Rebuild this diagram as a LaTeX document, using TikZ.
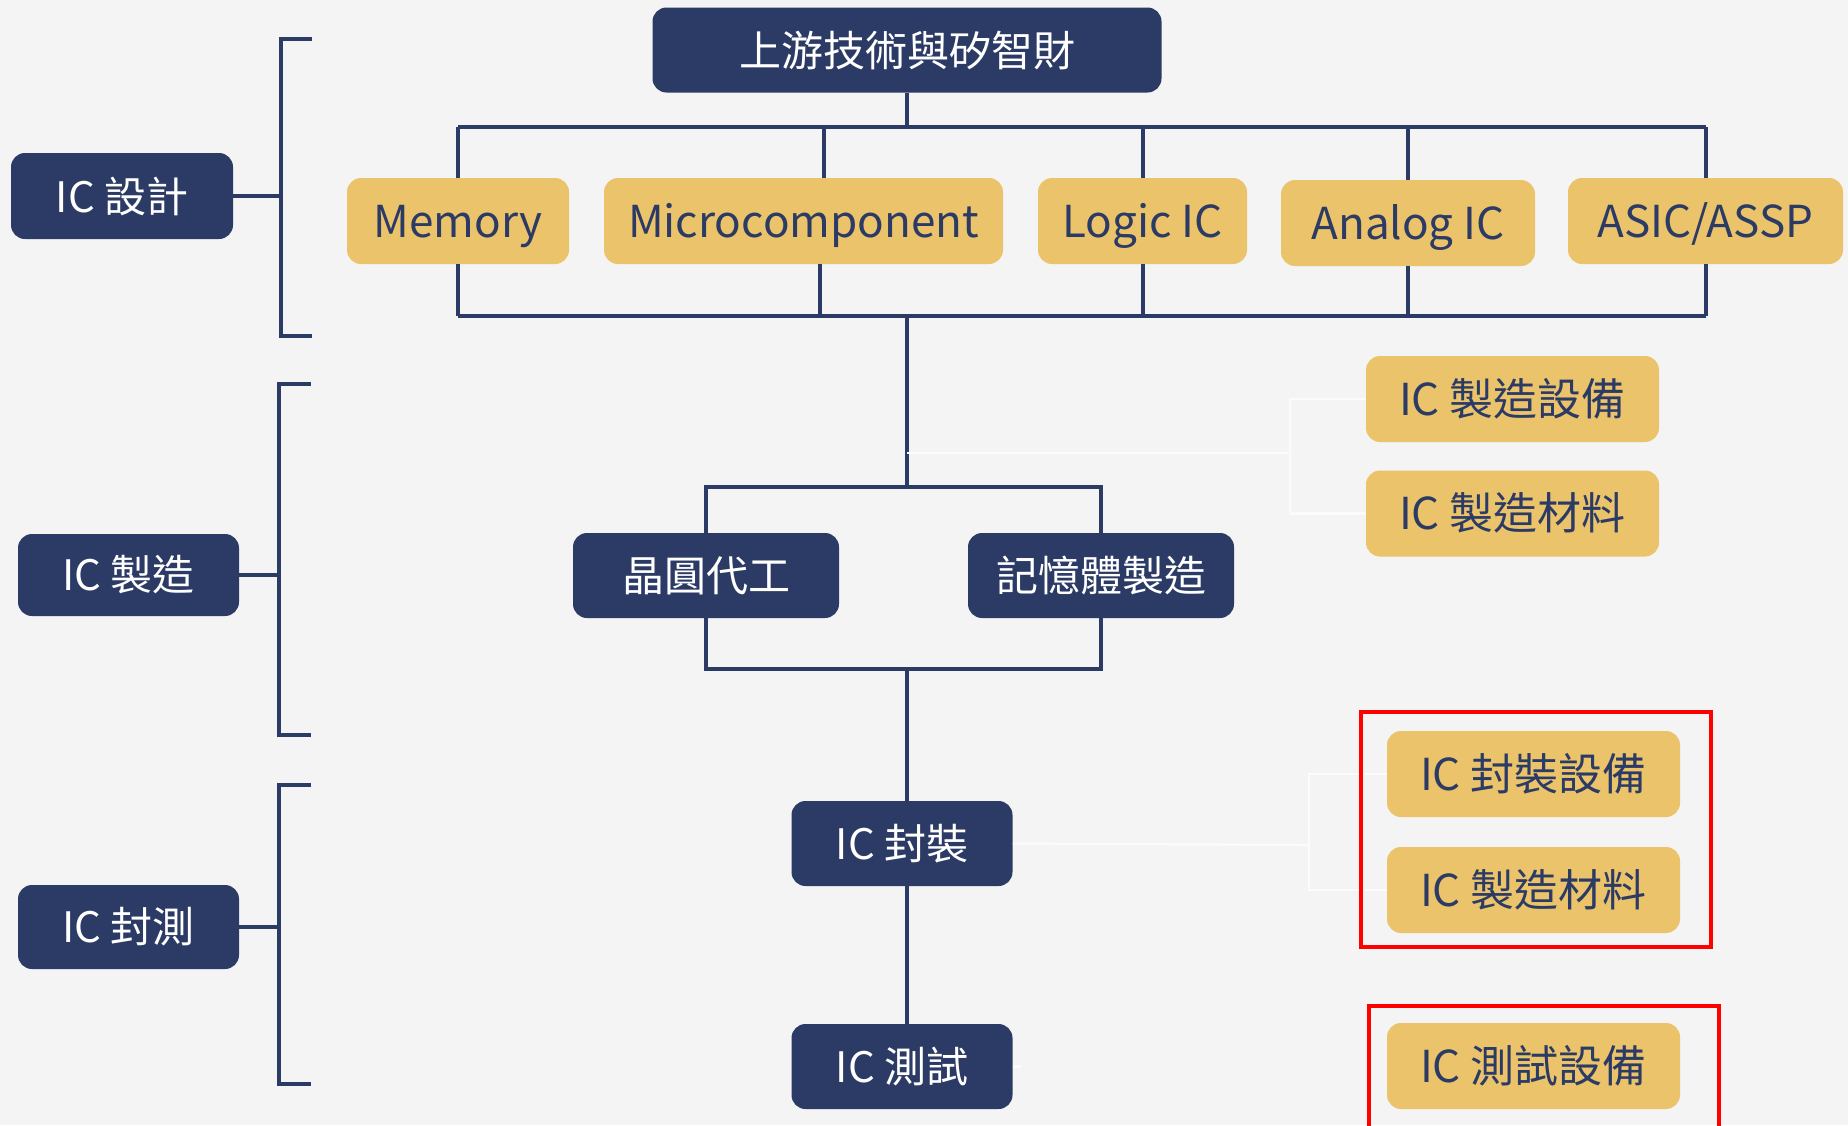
\documentclass[tikz,border=0pt]{standalone}
\usepackage{fontspec}
\setmainfont{Noto Sans CJK TC}
\definecolor{navy}{HTML}{2C3B65}
\definecolor{gold}{HTML}{EBC36A}
\definecolor{bg}{HTML}{F4F4F4}
\begin{document}
\begin{tikzpicture}[x=0.5pt,y=-0.5pt,
  navybox/.style={fill=navy,rounded corners=7pt,text=white,inner sep=0pt,
    font=\fontsize{21pt}{25pt}\selectfont},
  goldbox/.style={fill=gold,rounded corners=7pt,text=navy,inner sep=0pt,
    minimum height=43pt,text height=16pt,text depth=0pt,
    font=\fontsize{22pt}{26pt}\selectfont},
  conn/.style={draw=navy,line width=2pt},
  faint/.style={draw=white!60!bg,line width=1.2pt},
  redframe/.style={draw=red,line width=2pt}]
\fill[bg] (0,0) rectangle (1848,1125);
\useasboundingbox (0,0) rectangle (1848,1125);

% navy nodes
\node[navybox,minimum width=254.5pt,minimum height=42.5pt] (top) at (907,50) {上游技術與矽智財};
\node[navybox,minimum width=111pt,minimum height=43pt] (d1) at (122,196) {IC 設計};
\node[navybox,minimum width=110.5pt,minimum height=41pt] (m1) at (128.5,575) {IC 製造};
\node[navybox,minimum width=110.5pt,minimum height=42pt] (t1) at (128.5,927) {IC 封測};
\node[navybox,minimum width=133pt,minimum height=42.5pt] (wafer) at (706,575.5) {晶圓代工};
\node[navybox,minimum width=133pt,minimum height=42.5pt] (memf) at (1101,575.5) {記憶體製造};
\node[navybox,minimum width=110.5pt,minimum height=42.5pt] (pkg) at (902,843.5) {IC 封裝};
\node[navybox,minimum width=110.5pt,minimum height=42.5pt] (test) at (902,1066.5) {IC 測試};

% gold nodes
\node[goldbox,minimum width=111pt] (memory) at (458,221) {Memory};
\node[goldbox,minimum width=199.5pt] (micro) at (803.5,221) {Microcomponent};
\node[goldbox,minimum width=104.5pt] (logic) at (1142.5,221) {Logic IC};
\node[goldbox,minimum width=127pt] (analog) at (1408,223) {Analog IC};
\node[goldbox,minimum width=137.5pt] (asic) at (1705.5,221) {ASIC/ASSP};
\node[goldbox,minimum width=146.5pt] (eqa) at (1512.5,399) {IC 製造設備};
\node[goldbox,minimum width=146.5pt] (mata) at (1512.5,513.5) {IC 製造材料};
\node[goldbox,minimum width=146.5pt] (eqb) at (1533.5,774) {IC 封裝設備};
\node[goldbox,minimum width=146.5pt] (matb) at (1533.5,890) {IC 製造材料};
\node[goldbox,minimum width=146.5pt] (eqc) at (1533.5,1066) {IC 測試設備};

% coordinates
\coordinate (bt) at (907,127);
\coordinate (bb) at (907,316);
\coordinate (mt) at (907,487);
\coordinate (mb) at (907,669);

% top bus
\draw[conn] (top.south) -- (top.south |- bt);
\draw[conn] (memory.north |- bt) -- (asic.north |- bt);
\draw[conn] (memory.north) -- (memory.north |- bt);
\draw[conn] ([xshift=10pt]micro.north) -- ([xshift=10pt]micro.north |- bt);
\draw[conn] (logic.north) -- (logic.north |- bt);
\draw[conn] (analog.north) -- (analog.north |- bt);
\draw[conn] (asic.north) -- (asic.north |- bt);
% bottom bus
\draw[conn] (memory.south |- bb) -- (asic.south |- bb);
\draw[conn] (memory.south) -- (memory.south |- bb);
\draw[conn] ([xshift=8pt]micro.south) -- ([xshift=8pt]micro.south |- bb);
\draw[conn] (logic.south) -- (logic.south |- bb);
\draw[conn] (analog.south) -- (analog.south |- bb);
\draw[conn] (asic.south) -- (asic.south |- bb);
% trunk to manufacturing
\draw[conn] (bb) -- (mt);
\draw[conn] (wafer.north) |- (mt) -| (memf.north);
\draw[conn] (wafer.south) |- (mb) -| (memf.south);
\draw[conn] (mb) -- (mb |- pkg.north);
\draw[conn] (pkg.south -| mb) -- (test.north -| mb);

% left brackets
\coordinate (k1a) at (312,39);  \coordinate (k1b) at (312,336);
\coordinate (k2a) at (311,384); \coordinate (k2b) at (311,735);
\coordinate (k3a) at (311,785); \coordinate (k3b) at (311,1084);
\draw[conn] (k1a) -- ++(-31,0) |- (k1b);
\draw[conn] (k2a) -- ++(-32,0) |- (k2b);
\draw[conn] (k3a) -- ++(-32,0) |- (k3b);
\draw[conn] (d1.east) -- (d1.east -| 281,0);
\draw[conn] (m1.east) -- (m1.east -| 279,0);
\draw[conn] (t1.east) -- (t1.east -| 279,0);

% faint connectors
\coordinate (fa) at (1290,453);
\coordinate (fb) at (1309,845);
\draw[faint] (mt |- fa) -- (fa);
\draw[faint] (eqa.west) -| (fa) |- (mata.west);
\draw[faint] (pkg.east) -- (fb);
\draw[faint] (eqb.west) -| (fb) |- (matb.west);
\draw[faint] (test.east) -- ++(8,0);

% red frames
\draw[redframe] (1361,712) rectangle (1711,947);
\draw[redframe] (1369,1135) -- (1369,1006) -- (1719,1006) -- (1719,1135);
\end{tikzpicture}
\end{document}
